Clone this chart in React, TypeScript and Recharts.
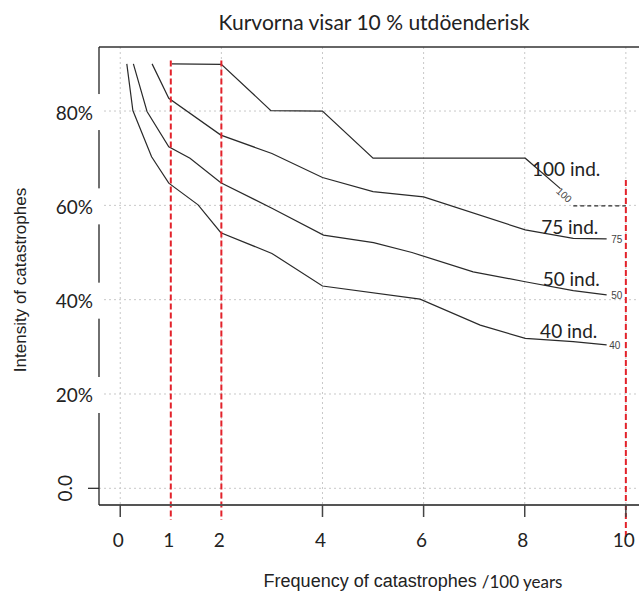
import React from "react";
import { CartesianGrid, Line, LineChart, ReferenceDot, ReferenceLine, XAxis, YAxis } from "recharts";

// contour lines (x = frequency per 100 years, y = intensity in %)
const x100 = [1.02, 2.0, 2.98, 4.0, 5.0, 8.01, 8.7];
const y100 = [90.0, 89.9, 80.1, 80.0, 70.0, 70.0, 63.6];
const x100dash = [8.96, 10];
const y100dash = [59.9, 59.9];

const x75 = [0.63, 0.96, 1.99, 3.0, 4.0, 5.0, 6.0, 8.01, 8.96, 9.62];
const y75 = [90.0, 82.7, 74.9, 71.0, 65.9, 62.9, 61.8, 54.8, 53.0, 52.9];

const x50 = [0.26, 0.53, 0.96, 1.38, 1.99, 3.0, 4.02, 5.01, 5.77, 6.98, 8.01, 8.96, 9.62];
const y50 = [90.0, 79.9, 72.4, 70.0, 64.8, 59.4, 53.7, 52.1, 50.0, 45.9, 43.8, 41.9, 41.0];

const x40 = [0.13, 0.25, 0.62, 0.96, 1.54, 1.99, 3.0, 4.0, 5.93, 7.12, 8.01, 8.96, 9.62];
const y40 = [90.0, 80.1, 70.3, 64.7, 60.1, 54.2, 49.8, 42.9, 40.1, 34.6, 31.8, 31.1, 30.4];

// curve labels
const bigLabels = ["100 ind.", "75 ind.", "50 ind.", "40 ind."];
const bigLabelX = [8.82, 8.89, 8.92, 8.87];
const bigLabelY = [67.7, 55.4, 44.4, 33.4];
const smallLabels = ["100", "75", "50", "40"];
const smallLabelX = [8.78, 9.82, 9.82, 9.78];
const smallLabelY = [62.2, 52.7, 40.8, 30.2];
const smallLabelAngle = [42, 0, 0, 0];

// red markers: x, top, bottom
const markerX = [1, 2, 10];
const markerTop = [90.7, 90.7, 65.4];
const markerBottom = [-6.7, -6.7, -10.3];

const xTicks = [0, 1, 2, 4, 6, 8, 10];
const xTickMarks = [0, 4, 6, 8, 10];
const xGrid = [0, 2, 4, 6, 8, 10];
const yTicks = [0, 20, 40, 60, 80];
const yTickLabels = ["0.0", "20%", "40%", "60%", "80%"];

const xDomain: [number, number] = [-0.42, 10.26];
const yDomain: [number, number] = [-3.54, 93.58];

const toPoints = (xs: number[], ys: number[]) => xs.map((x, i) => ({ x, y: ys[i] }));

const series = [toPoints(x100, y100), toPoints(x75, y75), toPoints(x50, y50), toPoints(x40, y40)];
const dashed100 = toPoints(x100dash, y100dash);

const CALIBRI = "Lato, 'Open Sans', sans-serif";
const ARIAL = "'Liberation Sans', Arial, sans-serif";
const AXIS_X = 99;
const PLOT_BOTTOM = 505;

function YTick(props: any) {
  const { y, payload } = props;
  const i = yTicks.indexOf(payload.value);
  if (payload.value === 0) {
    return (
      <g>
        <line x1={88} x2={AXIS_X} y1={y} y2={y} stroke="#222" strokeWidth={1.2} />
        <text
          x={65}
          y={y}
          transform={`rotate(-90 65 ${y})`}
          textAnchor="middle"
          dominantBaseline="central"
          fontSize={19}
          fontFamily={CALIBRI}
          fill="#222"
        >
          {yTickLabels[i]}
        </text>
      </g>
    );
  }
  return (
    <g>
      <rect x={95} y={y - 17} width={6} height={36} fill="#fff" />
      <text
        x={93}
        y={y + 1}
        textAnchor="end"
        dominantBaseline="central"
        fontSize={19}
        fontFamily={CALIBRI}
        fill="#222"
      >
        {yTickLabels[i]}
      </text>
    </g>
  );
}

function XTick(props: any) {
  const { x, payload } = props;
  return (
    <g>
      {xTickMarks.includes(payload.value) && (
        <line x1={x} x2={x} y1={PLOT_BOTTOM} y2={PLOT_BOTTOM + 12} stroke="#444" strokeWidth={1.5} />
      )}
      <text
        x={x - 2}
        y={539}
        textAnchor="middle"
        dominantBaseline="central"
        fontSize={19}
        fontFamily={CALIBRI}
        fill="#222"
      >
        {payload.value}
      </text>
    </g>
  );
}

const YTitle = () => (
  <text
    x={20}
    y={280}
    transform="rotate(-90 20 280)"
    textAnchor="middle"
    dominantBaseline="central"
    fontSize={17}
    fontFamily={ARIAL}
    fill="#222"
  >
    Intensity of catastrophes
  </text>
);

const XTitle = () => (
  <text x={413} y={581} textAnchor="middle" dominantBaseline="central" fill="#222">
    <tspan fontSize={18} fontFamily={ARIAL}>
      Frequency of catastrophes{" "}
    </tspan>
    <tspan fontSize={17} fontFamily={CALIBRI}>
      /100 years
    </tspan>
  </text>
);

export default function App() {
  return (
    <div style={{ position: "absolute", left: 0, top: 0, width: 639, height: 592, background: "#fff" }}>
      <div
        style={{
          position: "absolute",
          left: 0,
          top: 11,
          width: 748,
          textAlign: "center",
          fontFamily: CALIBRI,
          fontSize: 21,
          lineHeight: "22px",
          color: "#222",
        }}
      >
        Kurvorna visar 10 % utdöenderisk
      </div>
      <LineChart width={639} height={592} margin={{ top: 47, right: 0, left: 0, bottom: 0 }}>
        <CartesianGrid
          stroke="#c8c8c8"
          strokeDasharray="2 3"
          verticalValues={xGrid}
          horizontalValues={yTicks}
        />
        <XAxis
          dataKey="x"
          type="number"
          domain={xDomain}
          allowDataOverflow
          ticks={xTicks}
          interval={0}
          height={87}
          tickLine={false}
          axisLine={{ stroke: "#555", strokeWidth: 2 }}
          tick={<XTick />}
          label={<XTitle />}
        />
        <YAxis
          type="number"
          domain={yDomain}
          allowDataOverflow
          ticks={yTicks}
          interval={0}
          width={AXIS_X}
          tickLine={false}
          axisLine={{ stroke: "#222", strokeWidth: 1.3 }}
          tick={<YTick />}
          label={<YTitle />}
        />
        <ReferenceLine y={yDomain[1]} stroke="#333" strokeWidth={1.5} ifOverflow="visible" />
        {series.map((d, i) => (
          <Line
            key={i}
            data={d}
            dataKey="y"
            type="linear"
            stroke="#2a2a2a"
            strokeWidth={1.2}
            dot={false}
            activeDot={false}
            isAnimationActive={false}
          />
        ))}
        <Line
          data={dashed100}
          dataKey="y"
          type="linear"
          stroke="#2a2a2a"
          strokeWidth={1.2}
          strokeDasharray="4 3"
          dot={false}
          activeDot={false}
          isAnimationActive={false}
        />
        {markerX.map((x, i) => (
          <ReferenceLine
            key={`m${i}`}
            segment={[
              { x, y: markerTop[i] },
              { x, y: markerBottom[i] },
            ]}
            stroke="#e3222b"
            strokeWidth={2}
            strokeDasharray="6 3"
            ifOverflow="visible"
          />
        ))}
        {bigLabels.map((t, i) => (
          <ReferenceDot
            key={`b${i}`}
            x={bigLabelX[i]}
            y={bigLabelY[i]}
            r={1}
            fill="none"
            stroke="none"
            label={{ value: t, position: "center", fontSize: 19, fontFamily: CALIBRI, fill: "#222" }}
          />
        ))}
        {smallLabels.map((t, i) => (
          <ReferenceDot
            key={`s${i}`}
            x={smallLabelX[i]}
            y={smallLabelY[i]}
            r={1}
            fill="none"
            stroke="none"
            label={{
              value: t,
              position: "center",
              angle: smallLabelAngle[i],
              fontSize: 10,
              fontFamily: ARIAL,
              fill: "#444",
            }}
          />
        ))}
      </LineChart>
    </div>
  );
}
